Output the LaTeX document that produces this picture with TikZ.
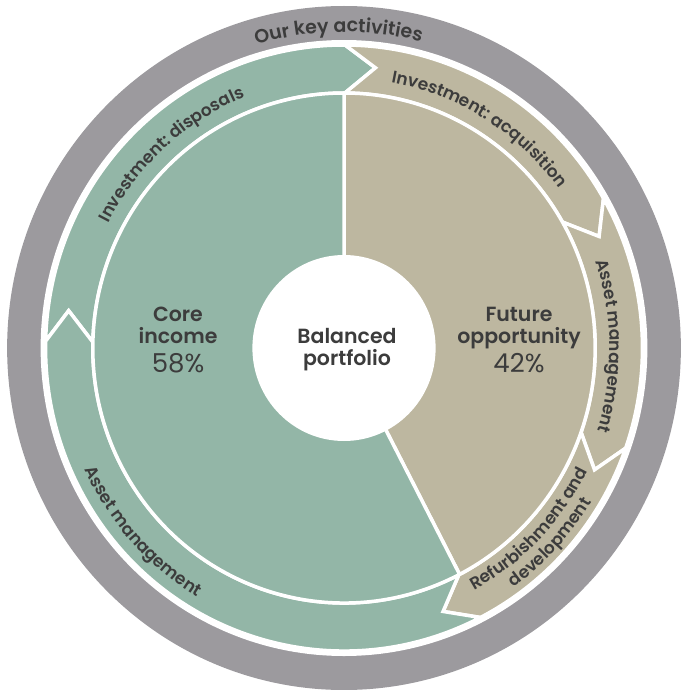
\documentclass[tikz,border=0pt]{standalone}
\usepackage{fontspec}
\setmainfont{Poppins}
\newfontface\psemi{Poppins SemiBold}
\usetikzlibrary{decorations.text}
\definecolor{coreteal}{HTML}{93B6A7}
\definecolor{futbeige}{HTML}{BDB7A0}
\definecolor{ringgray}{HTML}{9C9A9E}
\definecolor{inkgray}{HTML}{3C3C3C}

% one arrow-shaped piece of the activity band, running clockwise
% from angle #1 to angle #2, filled with colour #3
\newcommand\bandseg[3]{%
  \filldraw[bandpiece, fill=#3]
    (#1:303) arc[start angle=#1, end angle=#2, radius=303]
    -- ({#2-6.3}:282) -- (#2:255)
    arc[start angle=#2, end angle=#1, radius=255]
    -- ({#1-6.3}:282) -- cycle;}

\newcommand\bandfont{\psemi\fontsize{17}{17}\selectfont}

\begin{document}
\begin{tikzpicture}[x=1pt, y=1pt,
  bandpiece/.style={draw=white, line width=3.5pt, line join=miter, miter limit=3},
  piepiece/.style={draw=white, line width=3.5pt, line join=round},
  curvedlabel/.style={decorate, decoration={text along path, text align=center, text color=inkgray}},
  piehead/.style={text=inkgray, inner sep=0pt, anchor=base, font=\psemi\fontsize{20.5}{20.5}\selectfont},
  pieshare/.style={text=inkgray, inner sep=0pt, anchor=base, font=\fontsize{26}{26}\selectfont}]
\useasboundingbox (0,0) rectangle (682,-690);

\begin{scope}[shift={(344,-348)}, xscale=0.985]
  % outer ring
  \fill[ringgray] (0,0) circle[radius=342];
  \fill[white] (0,0) circle[radius=308];
  \path[curvedlabel, decoration={text={|\psemi\fontsize{19}{19}\selectfont|Our key activities}}]
    (150:316) arc[start angle=150, end angle=32, radius=316];

  % activity band
  \bandseg{178.7}{89.8}{coreteal}
  \bandseg{89.8}{29.6}{futbeige}
  \bandseg{29.6}{-19.3}{futbeige}
  \bandseg{-19.3}{-62.8}{futbeige}
  \bandseg{297.2}{178.7}{coreteal}

  % band labels, clockwise and reading outward
  \path[curvedlabel, decoration={text={|\bandfont|Investment: disposals}}]
    (175:270) arc[start angle=175, end angle=89, radius=270];
  \path[curvedlabel, decoration={text={|\bandfont|Investment: acquisition}}]
    (88:270) arc[start angle=88, end angle=28, radius=270];
  \path[curvedlabel, decoration={text={|\bandfont|Asset management}}]
    (30:270) arc[start angle=30, end angle=-29, radius=270];
  % band labels, anticlockwise and reading inward
  \path[curvedlabel, decoration={text={|\bandfont|Asset management}}]
    (190:290) arc[start angle=190, end angle=254, radius=290];
  \path[curvedlabel, decoration={text={|\bandfont|Refurbishment and}}]
    (-75:276) arc[start angle=-75, end angle=-13, radius=276];
  \path[curvedlabel, decoration={text={|\bandfont|development}}]
    (-74:295) arc[start angle=-74, end angle=-12, radius=295];

  % portfolio split
  \filldraw[piepiece, fill=futbeige] (0,0) -- (90:255)
    arc[start angle=90, end angle=-62.6, radius=255] -- cycle;
  \filldraw[piepiece, fill=coreteal] (0,0) -- (-62.6:255)
    arc[start angle=297.4, end angle=90, radius=255] -- cycle;
  \fill[white] (0,0) circle[radius=93];
\end{scope}

% centre and share labels
\node[piehead] (bal1) at (347,-343) {Balanced};
\node[piehead] (bal2) at (347,-365) {portfolio};
\node[piehead] (core1) at (178,-321) {Core};
\node[piehead] (core2) at (178,-343) {income};
\node[pieshare] (core3) at (178,-372) {58\%};
\node[piehead] (fut1) at (519,-321) {Future};
\node[piehead] (fut2) at (519,-343) {opportunity};
\node[pieshare] (fut3) at (519,-372) {42\%};
\end{tikzpicture}
\end{document}
